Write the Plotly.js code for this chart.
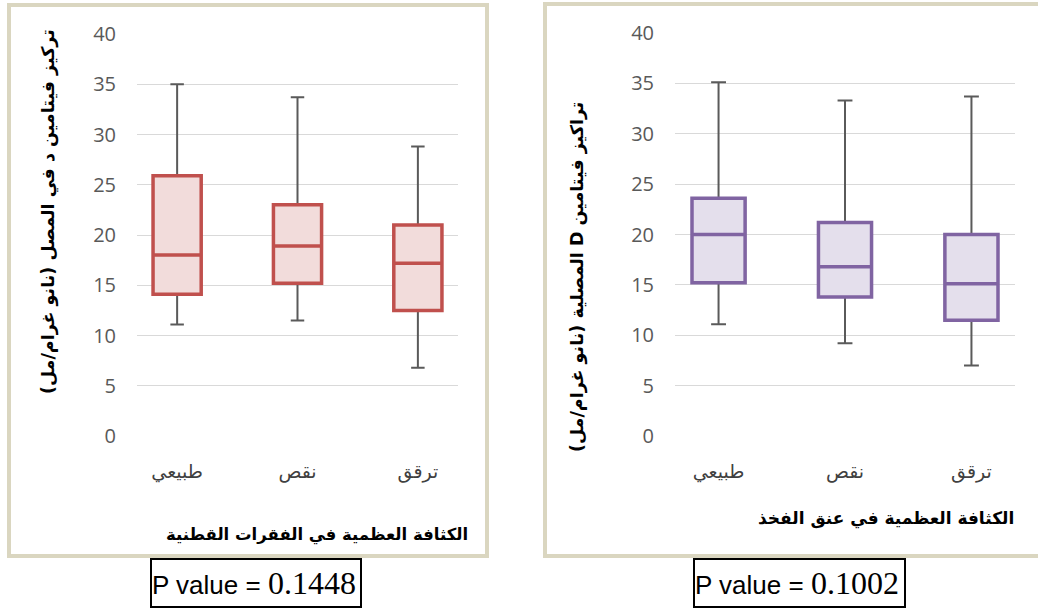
<!DOCTYPE html>
<html>
<head>
<meta charset="utf-8">
<script src="https://cdn.plot.ly/plotly-3.0.1.min.js"></script>
<style>html,body{margin:0;padding:0;background:#fff;}#chart{width:1038px;height:610px;}</style>
</head>
<body>
<div id="chart"></div>
<script>
// ---- data ----
const categories = ['طبيعي', 'نقص', 'ترقق'];
const spineQ1 = [14.1, 15.2, 12.5];
const spineMedian = [18.0, 18.9, 17.2];
const spineQ3 = [25.9, 23.0, 21.0];
const spineLow = [11.1, 11.5, 6.8];
const spineHigh = [35.0, 33.7, 28.8];

const femurQ1 = [15.2, 13.8, 11.5];
const femurMedian = [20.0, 16.8, 15.1];
const femurQ3 = [23.6, 21.2, 20.0];
const femurLow = [11.1, 9.2, 7.0];
const femurHigh = [35.1, 33.3, 33.7];

const yTitleLeft = 'تركيز فيتامين د في المصل (نانو غرام/مل)';
const yTitleRight = 'تراكيز فيتامين D المصلية (نانو غرام/مل)';
const xTitleLeft = 'الكثافة العظمية في الفقرات القطنية';
const xTitleRight = 'الكثافة العظمية في عنق الفخذ';
const pLeft = '0.1448';
const pRight = '0.1002';

// ---- layout helpers ----
const W = 1038, H = 610;
const px = v => v / W;
const py = v => 1 - v / H;
const rtl = s => '\u202B' + s + '\u202C';

const whiskerGray = '#5a5a5a';
const arabicFont = 'DejaVu Sans, sans-serif';

function whiskerTrace(q1, med, q3, lo, hi, xa, ya, w) {
  return {
    type: 'box', x: categories, q1: q1, median: med, q3: q3,
    lowerfence: lo, upperfence: hi, xaxis: xa, yaxis: ya,
    width: w, whiskerwidth: 0.28,
    line: {color: whiskerGray, width: 2},
    fillcolor: 'rgba(0,0,0,0)', boxpoints: false, showlegend: false, hoverinfo: 'skip'
  };
}
function boxTrace(q1, med, q3, xa, ya, w, lineColor, fill) {
  return {
    type: 'box', x: categories, q1: q1, median: med, q3: q3,
    lowerfence: q1, upperfence: q3, xaxis: xa, yaxis: ya,
    width: w, whiskerwidth: 0,
    line: {color: lineColor, width: 3.5},
    fillcolor: fill, boxpoints: false, showlegend: false, hoverinfo: 'skip'
  };
}

const data = [
  whiskerTrace(spineQ1, spineMedian, spineQ3, spineLow, spineHigh, 'x', 'y', 0.4),
  boxTrace(spineQ1, spineMedian, spineQ3, 'x', 'y', 0.4, '#C0504D', '#F2DCDB'),
  whiskerTrace(femurQ1, femurMedian, femurQ3, femurLow, femurHigh, 'x2', 'y2', 0.42),
  boxTrace(femurQ1, femurMedian, femurQ3, 'x2', 'y2', 0.42, '#8064A2', '#E4DFEC')
];

function yAxis(domain, anchor) {
  return {
    domain: domain, anchor: anchor, range: [0, 40], dtick: 5, tick0: 0,
    showgrid: true, gridcolor: '#D9D9D9', gridwidth: 1,
    zeroline: false, showline: false, ticks: '',
    ticklabelstandoff: 20,
    tickfont: {family: 'Open Sans, sans-serif', size: 20, color: '#595959'},
    fixedrange: true
  };
}
function xAxis(domain, anchor) {
  return {
    domain: domain, anchor: anchor, type: 'category',
    categoryorder: 'array', categoryarray: categories,
    showgrid: false, zeroline: false, showline: false, ticks: '',
    ticklabelstandoff: 22,
    tickfont: {family: arabicFont, size: 19, color: '#404040'},
    fixedrange: true
  };
}

const pText = v => 'P value = <span style="font-family:Liberation Serif;font-size:32px">' + v + '</span>';

const layout = {
  width: W, height: H,
  margin: {l: 0, r: 0, t: 0, b: 0},
  paper_bgcolor: '#ffffff', plot_bgcolor: 'rgba(0,0,0,0)',
  boxmode: 'overlay', showlegend: false,
  xaxis: xAxis([px(137), px(458)], 'y'),
  yaxis: yAxis([py(436), py(34)], 'x'),
  xaxis2: xAxis([px(675), px(1015)], 'y2'),
  yaxis2: yAxis([py(436), py(33)], 'x2'),
  shapes: [
    {type: 'rect', xref: 'paper', yref: 'paper', layer: 'below',
     x0: px(9), x1: px(487), y0: py(556), y1: py(5),
     line: {color: '#DAD6C0', width: 4}, fillcolor: '#ffffff'},
    {type: 'rect', xref: 'paper', yref: 'paper', layer: 'below',
     x0: px(545), x1: px(1045), y0: py(556), y1: py(4),
     line: {color: '#DAD6C0', width: 4}, fillcolor: '#ffffff'}
  ],
  annotations: [
    {xref: 'paper', yref: 'paper', x: px(48), y: py(212), textangle: -90,
     text: rtl(yTitleLeft), showarrow: false, xanchor: 'center', yanchor: 'middle',
     font: {family: arabicFont, size: 17.5, color: '#000', weight: 'bold'}},
    {xref: 'paper', yref: 'paper', x: px(577), y: py(277), textangle: -90,
     text: rtl(yTitleRight), showarrow: false, xanchor: 'center', yanchor: 'middle',
     font: {family: arabicFont, size: 17.5, color: '#000', weight: 'bold'}},
    {xref: 'paper', yref: 'paper', x: px(317), y: py(535),
     text: rtl(xTitleLeft), showarrow: false, xanchor: 'center', yanchor: 'middle',
     font: {family: arabicFont, size: 16.5, color: '#000', weight: 'bold'}},
    {xref: 'paper', yref: 'paper', x: px(886), y: py(518),
     text: rtl(xTitleRight), showarrow: false, xanchor: 'center', yanchor: 'middle',
     font: {family: arabicFont, size: 17, color: '#000', weight: 'bold'}},
    {xref: 'paper', yref: 'paper', x: px(256), y: py(583),
     text: pText(pLeft),
     showarrow: false, xanchor: 'center', yanchor: 'middle', align: 'left',
     width: 208, height: 46, borderpad: 0, bordercolor: '#000', borderwidth: 2, bgcolor: '#fff',
     font: {family: 'Liberation Sans, Arial, sans-serif', size: 26, color: '#000'}},
    {xref: 'paper', yref: 'paper', x: px(799.5), y: py(583),
     text: pText(pRight),
     showarrow: false, xanchor: 'center', yanchor: 'middle', align: 'left',
     width: 209, height: 46, borderpad: 0, bordercolor: '#000', borderwidth: 2, bgcolor: '#fff',
     font: {family: 'Liberation Sans, Arial, sans-serif', size: 26, color: '#000'}}
  ]
};

Plotly.newPlot('chart', data, layout, {displayModeBar: false, staticPlot: true});
</script>
</body>
</html>
